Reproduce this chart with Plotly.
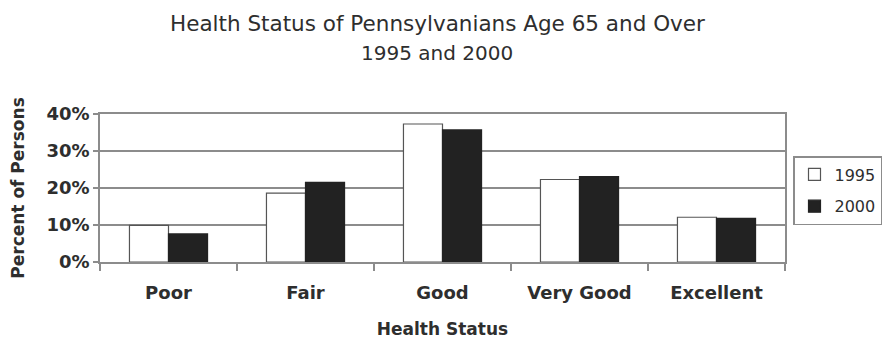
import plotly.graph_objects as go

categories = ["Poor", "Fair", "Good", "Very Good", "Excellent"]
values_1995 = [9.9, 18.6, 37.3, 22.3, 12.1]
values_2000 = [7.6, 21.5, 35.7, 23.1, 11.8]
y_ticks = [0, 10, 20, 30, 40]
y_tick_labels = ["0%", "10%", "20%", "30%", "40%"]
title_lines = ["Health Status of Pennsylvanians Age 65 and Over", "1995 and 2000"]

FONT = "DejaVu Sans"
INK = "#2e2e2e"
GRID = "#8c8c8c"
W, H = 884, 339
L, R, T, B = 100, 99, 114, 77
PH = H - T - B
PW = W - L - R

fig = go.Figure()
fig.add_trace(go.Bar(
    name="1995", x=categories, y=values_1995, legendgroup="a",
    marker=dict(color="#ffffff", line=dict(color="#555555", width=1.2)),
))
fig.add_trace(go.Bar(
    name="2000", x=categories, y=values_2000, legendgroup="b",
    marker=dict(color="#222222", line=dict(color="#222222", width=1.2)),
))

# title as two annotations (pixel-placed line centres)
for txt, yc, sz in zip(title_lines, [23, 53], [21.5, 20]):
    fig.add_annotation(
        text=txt, xref="paper", yref="paper",
        x=(437 - L) / PW, y=(H - B - yc) / PH,
        xanchor="center", yanchor="middle", showarrow=False,
        font=dict(family=FONT, size=sz, color=INK),
    )

fig.update_layout(
    width=W, height=H,
    margin=dict(l=L, r=R, t=T, b=B, autoexpand=False),
    paper_bgcolor="white", plot_bgcolor="white",
    barmode="group", bargap=0.43, bargroupgap=0,
    font=dict(family=FONT, color=INK),
    legend=dict(
        x=(793 - L) / PW, xanchor="left", y=(H - B - 156) / PH, yanchor="top",
        bordercolor=GRID, borderwidth=1.5,
        font=dict(family=FONT, size=16, color=INK),
        tracegroupgap=8, itemwidth=30,
    ),
    showlegend=True,
)

fig.update_xaxes(
    showline=True, linecolor=GRID, linewidth=1.5, mirror=True,
    ticks="outside", tickson="boundaries", ticklen=7, tickcolor=GRID, tickwidth=1.5,
    ticklabelstandoff=14,
    tickfont=dict(family=FONT, size=18, color=INK, weight="bold"),
    title=dict(text="Health Status", standoff=22,
               font=dict(family=FONT, size=17, color=INK, weight="bold")),
)
fig.update_yaxes(
    range=[0, 40], tickvals=y_ticks, ticktext=y_tick_labels,
    showline=True, linecolor=GRID, linewidth=1.5, mirror=True,
    showgrid=True, gridcolor=GRID, gridwidth=1.5, zeroline=False,
    ticks="outside", ticklen=5, tickcolor=GRID, tickwidth=1.5,
    tickfont=dict(family=FONT, size=18, color=INK, weight="bold"),
    title=dict(text="Percent of Persons", standoff=18,
               font=dict(family=FONT, size=17, color=INK, weight="bold")),
)

fig.write_html("out.html")
